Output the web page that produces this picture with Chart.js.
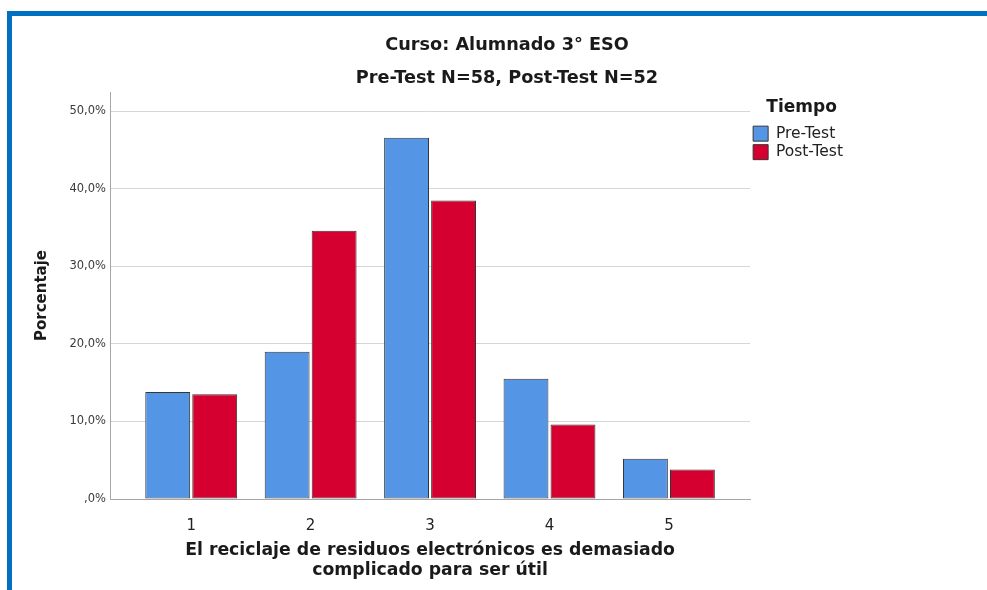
<!DOCTYPE html>
<html>
<head>
<meta charset="utf-8">
<script src="https://cdn.jsdelivr.net/npm/chart.js@4.4.1/dist/chart.umd.min.js"></script>
<style>
    html, body { margin: 0; padding: 0; background: #fff; overflow: hidden; }
    body { width: 987px; height: 590px; position: relative; }
    .frame-top { position: absolute; left: 7px; top: 11px; width: 980px; height: 5px; background: #0070C0; }
    .frame-left { position: absolute; left: 7px; top: 11px; width: 5px; height: 579px; background: #0070C0; }
    #respuestasChart { position: absolute; left: 12px; top: 16px; }
</style>
</head>
<body>
<div class="frame-top"></div>
<div class="frame-left"></div>
<canvas id="respuestasChart" width="990" height="574"></canvas>
<script>
var categories = ['1', '2', '3', '4', '5'];
var preTest = [13.8, 19.0, 46.6, 15.5, 5.2];   // N=58
var postTest = [13.5, 34.6, 38.5, 9.6, 3.8];   // N=52
var yTicks = [0, 10, 20, 30, 40, 50];
var yTickLabels = [',0%', '10,0%', '20,0%', '30,0%', '40,0%', '50,0%'];

var font = 'DejaVu Sans';

function toPoints(values) {
    return values.map((v, i) => ({ x: Number(categories[i]), y: v }));
}

var ctx = document.getElementById('respuestasChart').getContext('2d');
var respuestasChart = new Chart(ctx, {
    type: 'bar',
    data: {
        datasets: [{
            label: 'Pre-Test',
            data: toPoints(preTest),
            backgroundColor: '#5595E5',
            borderColor: '#363636',
            borderWidth: 1,
            borderSkipped: false,
            categoryPercentage: 0.787,
            barPercentage: 0.955
        },
        {
            label: 'Post-Test',
            data: toPoints(postTest),
            backgroundColor: '#D5002F',
            borderColor: '#363636',
            borderWidth: 1,
            borderSkipped: false,
            categoryPercentage: 0.787,
            barPercentage: 0.955
        }]
    },
    options: {
        responsive: false,
        animation: false,
        layout: { padding: 0 },
        plugins: {
            title: {
                display: true,
                text: ['Curso: Alumnado 3° ESO', 'Pre-Test N=58, Post-Test N=52'],
                color: '#1a1a1a',
                font: { family: font, size: 17.7, weight: 'bold', lineHeight: 33 / 17.7 },
                padding: { top: 12.5, bottom: -2.5 }
            },
            legend: {
                position: 'right',
                align: 'start',
                fullSize: false,
                title: {
                    display: true,
                    text: 'Tiempo',
                    position: 'center',
                    color: '#1a1a1a',
                    font: { family: font, size: 17, weight: 'bold' },
                    padding: { top: 7.5, bottom: 3 }
                },
                labels: {
                    color: '#222',
                    font: { family: font, size: 15.5 },
                    boxWidth: 15,
                    boxHeight: 15,
                    padding: 3
                }
            },
            tooltip: { enabled: false }
        },
        scales: {
            x: {
                type: 'linear',
                min: 0.32,
                max: 5.68,
                offset: false,
                afterBuildTicks: axis => {
                    axis.ticks = categories.map(c => ({ value: Number(c) }));
                },
                afterFit: axis => { axis.height = 91; },
                grid: { display: false, offset: false },
                border: { color: '#a6a6a6', width: 1 },
                ticks: {
                    padding: 10,
                    color: '#222',
                    font: { family: font, size: 15 },
                    callback: v => String(v)
                },
                title: {
                    display: true,
                    text: ['El reciclaje de residuos electrónicos es demasiado', 'complicado para ser útil'],
                    color: '#1a1a1a',
                    font: { family: font, size: 17.3, weight: 'bold', lineHeight: 19.5 / 17.3 },
                    padding: { top: 0, bottom: 10 }
                }
            },
            y: {
                min: 0,
                max: 52.5,
                afterBuildTicks: axis => {
                    axis.ticks = yTicks.map(v => ({ value: v }));
                },
                afterFit: axis => { axis.width = 98; },
                grid: { color: '#d6d6d6', lineWidth: 1, drawTicks: false },
                border: { color: '#a6a6a6', width: 1 },
                ticks: {
                    padding: 4,
                    color: '#3a3a3a',
                    font: { family: font, size: 11.5 },
                    callback: v => yTickLabels[yTicks.indexOf(v)]
                },
                title: {
                    display: true,
                    text: 'Porcentaje',
                    color: '#1a1a1a',
                    font: { family: font, size: 15, weight: 'bold', lineHeight: 1.2 },
                    padding: { top: 21.5, bottom: 0 }
                }
            },
            // empty space to the right of the legend
            gap: {
                type: 'linear',
                position: 'right',
                weight: 2000,
                afterFit: axis => { axis.width = 149; },
                grid: { display: false },
                border: { display: false },
                ticks: { display: false }
            }
        }
    }
});
</script>
</body>
</html>
